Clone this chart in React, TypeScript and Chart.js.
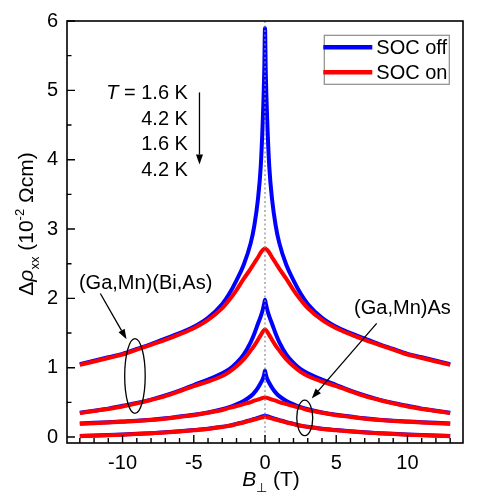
import React, { useEffect, useRef } from "react";
import { Chart, registerables } from "chart.js";

Chart.register(...registerables);

const FONT = '"Liberation Sans", Arial, Helvetica, sans-serif';

// Magnetic field B⊥ (T)
const fieldB = [-13, -12, -11, -10, -9, -8, -7, -6, -5, -4, -3, -2.5, -2, -1.5, -1, -0.75, -0.5, -0.3, -0.15, -0.05, 0, 0.05, 0.15, 0.3, 0.5, 0.75, 1, 1.5, 2, 2.5, 3, 4, 5, 6, 7, 8, 9, 10, 11, 12, 13];

// (Ga,Mn)(Bi,As), T = 1.6 K
const gmbaLowOff = [1.05, 1.10, 1.15, 1.20, 1.27, 1.34, 1.42, 1.50, 1.59, 1.72, 1.92, 2.07, 2.26, 2.48, 2.80, 3.05, 3.42, 3.90, 4.60, 5.30, 5.90, 5.30, 4.60, 3.90, 3.42, 3.05, 2.80, 2.48, 2.26, 2.07, 1.92, 1.72, 1.59, 1.50, 1.42, 1.34, 1.27, 1.20, 1.15, 1.10, 1.05];
const gmbaLowOn = [1.04, 1.09, 1.14, 1.19, 1.26, 1.33, 1.40, 1.48, 1.57, 1.69, 1.86, 1.98, 2.12, 2.28, 2.43, 2.51, 2.59, 2.66, 2.70, 2.715, 2.72, 2.715, 2.70, 2.66, 2.59, 2.51, 2.43, 2.28, 2.12, 1.98, 1.86, 1.69, 1.57, 1.48, 1.40, 1.33, 1.26, 1.19, 1.14, 1.09, 1.04];
// (Ga,Mn)(Bi,As), T = 4.2 K
const gmbaHighOff = [0.35, 0.38, 0.41, 0.45, 0.49, 0.54, 0.60, 0.67, 0.75, 0.83, 0.92, 0.98, 1.07, 1.19, 1.37, 1.49, 1.63, 1.74, 1.84, 1.93, 1.98, 1.93, 1.84, 1.74, 1.63, 1.49, 1.37, 1.19, 1.07, 0.98, 0.92, 0.83, 0.75, 0.67, 0.60, 0.54, 0.49, 0.45, 0.41, 0.38, 0.35];
const gmbaHighOn = [0.345, 0.375, 0.405, 0.44, 0.485, 0.535, 0.59, 0.66, 0.735, 0.80, 0.88, 0.94, 1.02, 1.12, 1.25, 1.32, 1.40, 1.47, 1.52, 1.545, 1.55, 1.545, 1.52, 1.47, 1.40, 1.32, 1.25, 1.12, 1.02, 0.94, 0.88, 0.80, 0.735, 0.66, 0.59, 0.535, 0.485, 0.44, 0.405, 0.375, 0.345];
// (Ga,Mn)As, T = 1.6 K
const gmaLowOff = [0.195, 0.205, 0.215, 0.225, 0.235, 0.25, 0.27, 0.295, 0.32, 0.355, 0.40, 0.43, 0.47, 0.52, 0.59, 0.64, 0.71, 0.78, 0.84, 0.91, 0.96, 0.91, 0.84, 0.78, 0.71, 0.64, 0.59, 0.52, 0.47, 0.43, 0.40, 0.355, 0.32, 0.295, 0.27, 0.25, 0.235, 0.225, 0.215, 0.205, 0.195];
const gmaLowOn = [0.19, 0.20, 0.21, 0.22, 0.23, 0.245, 0.265, 0.29, 0.315, 0.35, 0.39, 0.42, 0.445, 0.475, 0.505, 0.525, 0.54, 0.555, 0.565, 0.568, 0.57, 0.568, 0.565, 0.555, 0.54, 0.525, 0.505, 0.475, 0.445, 0.42, 0.39, 0.35, 0.315, 0.29, 0.265, 0.245, 0.23, 0.22, 0.21, 0.20, 0.19];
// (Ga,Mn)As, T = 4.2 K
const gmaHighOff = [0.016, 0.022, 0.029, 0.037, 0.046, 0.056, 0.068, 0.083, 0.10, 0.12, 0.148, 0.165, 0.19, 0.215, 0.245, 0.26, 0.275, 0.29, 0.30, 0.305, 0.31, 0.305, 0.30, 0.29, 0.275, 0.26, 0.245, 0.215, 0.19, 0.165, 0.148, 0.12, 0.10, 0.083, 0.068, 0.056, 0.046, 0.037, 0.029, 0.022, 0.016];
const gmaHighOn = [0.013, 0.019, 0.026, 0.034, 0.043, 0.053, 0.065, 0.08, 0.097, 0.117, 0.145, 0.162, 0.186, 0.21, 0.238, 0.252, 0.266, 0.277, 0.285, 0.288, 0.29, 0.288, 0.285, 0.277, 0.266, 0.252, 0.238, 0.21, 0.186, 0.162, 0.145, 0.117, 0.097, 0.08, 0.065, 0.053, 0.043, 0.034, 0.026, 0.019, 0.013];

const socOffSeries = [gmbaLowOff, gmbaHighOff, gmaLowOff, gmaHighOff];
const socOnSeries = [gmbaLowOn, gmbaHighOn, gmaLowOn, gmaHighOn];

const legendLabels = ["SOC off", "SOC on"];
const seriesColors = ["#0000FF", "#FF0000"];

const xTickLabels = [-10, -5, 0, 5, 10];
const xMinorTicks = [-13, -12, -11, -9, -8, -7, -6, -4, -3, -2, -1, 1, 2, 3, 4, 6, 7, 8, 9, 11, 12, 13];
const yTickLabels = [0, 1, 2, 3, 4, 5, 6];
const yMinorTicks = [0.5, 1.5, 2.5, 3.5, 4.5, 5.5];

const tempLabels = ["1.6 K", "4.2 K", "1.6 K", "4.2 K"];

type Part = { t: string; italic?: boolean; sub?: boolean; sup?: boolean };

function drawRich(ctx: CanvasRenderingContext2D, parts: Part[], x: number, y: number, size: number, align: "left" | "center" | "right") {
  const fontFor = (p: Part) => {
    const s = p.sub || p.sup ? size * 0.62 : size;
    return `${p.italic ? "italic " : ""}${s}px ${FONT}`;
  };
  let total = 0;
  const widths = parts.map((p) => {
    ctx.font = fontFor(p);
    const w = ctx.measureText(p.t).width;
    total += w;
    return w;
  });
  let cx = align === "left" ? x : align === "center" ? x - total / 2 : x - total;
  ctx.textAlign = "left";
  parts.forEach((p, i) => {
    ctx.font = fontFor(p);
    const dy = p.sub ? size * 0.3 : p.sup ? -size * 0.42 : 0;
    ctx.fillText(p.t, cx, y + dy);
    cx += widths[i];
  });
}

function arrow(ctx: CanvasRenderingContext2D, x1: number, y1: number, x2: number, y2: number) {
  const ang = Math.atan2(y2 - y1, x2 - x1);
  const len = 10;
  const hw = 3.5;
  const bx = x2 - len * Math.cos(ang);
  const by = y2 - len * Math.sin(ang);
  ctx.beginPath();
  ctx.moveTo(x1, y1);
  ctx.lineTo(bx, by);
  ctx.stroke();
  ctx.beginPath();
  ctx.moveTo(x2, y2);
  ctx.lineTo(bx + hw * Math.sin(ang), by - hw * Math.cos(ang));
  ctx.lineTo(bx - hw * Math.sin(ang), by + hw * Math.cos(ang));
  ctx.closePath();
  ctx.fill();
}

const decorPlugin = {
  id: "decor",
  afterDatasetsDraw(chart: any) {
    const { ctx, chartArea: a, scales } = chart;
    const xs = scales.x;
    const ys = scales.y;
    ctx.save();
    // dotted zero line
    const x0 = xs.getPixelForValue(0);
    ctx.strokeStyle = "#8a8a8a";
    ctx.lineWidth = 1.2;
    ctx.setLineDash([2, 2.5]);
    ctx.beginPath();
    ctx.moveTo(x0, a.top);
    ctx.lineTo(x0, a.bottom);
    ctx.stroke();
    ctx.setLineDash([]);
    // frame
    ctx.strokeStyle = "#000";
    ctx.lineWidth = 1.6;
    ctx.strokeRect(a.left, a.top, a.right - a.left, a.bottom - a.top);
    // inward ticks
    ctx.lineWidth = 1.4;
    ctx.beginPath();
    xTickLabels.forEach((v) => {
      const px = xs.getPixelForValue(v);
      ctx.moveTo(px, a.bottom);
      ctx.lineTo(px, a.bottom - 8);
    });
    xMinorTicks.forEach((v) => {
      const px = xs.getPixelForValue(v);
      ctx.moveTo(px, a.bottom);
      ctx.lineTo(px, a.bottom - 5);
    });
    yTickLabels.forEach((v) => {
      const py = ys.getPixelForValue(v);
      ctx.moveTo(a.left, py);
      ctx.lineTo(a.left + 8, py);
    });
    yMinorTicks.forEach((v) => {
      const py = ys.getPixelForValue(v);
      ctx.moveTo(a.left, py);
      ctx.lineTo(a.left + 4.5, py);
    });
    ctx.stroke();
    ctx.restore();
  },
  afterDraw(chart: any) {
    const { ctx, chartArea: a, scales } = chart;
    const xs = scales.x;
    const ys = scales.y;
    const X = (v: number) => xs.getPixelForValue(v);
    const Y = (v: number) => ys.getPixelForValue(v);
    ctx.save();
    ctx.fillStyle = "#000";
    ctx.strokeStyle = "#000";
    ctx.textBaseline = "middle";

    // temperature labels
    const tRight = X(-5.41);
    tempLabels.forEach((lab, i) => {
      const py = Y(4.95) + i * 25.5;
      const parts: Part[] = i === 0 ? [{ t: "T", italic: true }, { t: " = " + lab }] : [{ t: lab }];
      drawRich(ctx, parts, tRight, py, 20, "right");
    });
    ctx.lineWidth = 1.3;
    arrow(ctx, X(-4.6), Y(4.97), X(-4.6), Y(3.93));

    // sample annotations
    drawRich(ctx, [{ t: "(Ga,Mn)(Bi,As)" }], X(-8.38), Y(2.21), 20, "center");
    drawRich(ctx, [{ t: "(Ga,Mn)As" }], X(9.65), Y(1.85), 20, "center");
    ctx.lineWidth = 1.3;
    arrow(ctx, X(-11.56), Y(2.07), X(-9.72), Y(1.41));
    arrow(ctx, X(7.84), Y(1.64), X(3.28), Y(0.557));
    const ell = (cb: number, cv: number, rb: number, rv: number) => {
      const cx = X(cb);
      const cy = Y(cv);
      ctx.beginPath();
      ctx.ellipse(cx, cy, Math.abs(X(cb + rb) - cx), Math.abs(Y(cv + rv) - cy), 0, 0, Math.PI * 2);
      ctx.stroke();
    };
    ell(-9.13, 0.88, 0.72, 0.54);
    ell(2.79, 0.276, 0.56, 0.256);

    // legend
    const lx = a.right - 138.7;
    const ly = a.top + 14.3;
    ctx.fillStyle = "#fff";
    ctx.fillRect(lx, ly, 125, 49);
    ctx.strokeStyle = "#8c8c8c";
    ctx.lineWidth = 1.2;
    ctx.strokeRect(lx, ly, 125, 49);
    legendLabels.forEach((lab, i) => {
      const yy = ly + 12 + i * 25;
      ctx.strokeStyle = seriesColors[i];
      ctx.lineWidth = 4.5;
      ctx.beginPath();
      ctx.moveTo(lx - 1, yy);
      ctx.lineTo(lx + 48, yy);
      ctx.stroke();
      ctx.fillStyle = "#000";
      drawRich(ctx, [{ t: lab }], lx + 52, yy + 1, 20, "left");
    });

    // axis titles
    ctx.fillStyle = "#000";
    ctx.textBaseline = "alphabetic";
    drawRich(
      ctx,
      [{ t: "B", italic: true }, { t: "\u22A5", sub: true }, { t: " (T)" }],
      (a.left + a.right) / 2 + 6,
      486,
      21,
      "center"
    );
    ctx.save();
    ctx.translate(33, (a.top + a.bottom) / 2 - 8);
    ctx.rotate(-Math.PI / 2);
    drawRich(
      ctx,
      [{ t: "\u0394" }, { t: "\u03C1", italic: true }, { t: "xx", sub: true }, { t: " (10" }, { t: "-2", sup: true }, { t: " \u03A9cm)" }],
      0,
      0,
      21,
      "center"
    );
    ctx.restore();
    ctx.restore();
  },
};

export default function App() {
  const ref = useRef<HTMLCanvasElement>(null);
  useEffect(() => {
    const datasets: any[] = [];
    socOffSeries.forEach((vals, i) => {
      datasets.push({
        label: legendLabels[0] + " " + i,
        data: fieldB.map((b, k) => ({ x: b, y: vals[k] })),
        borderColor: seriesColors[0],
        borderWidth: 4,
        pointRadius: 0,
        cubicInterpolationMode: "monotone",
        fill: false,
        order: 2,
      });
    });
    socOnSeries.forEach((vals, i) => {
      datasets.push({
        label: legendLabels[1] + " " + i,
        data: fieldB.map((b, k) => ({ x: b, y: vals[k] })),
        borderColor: seriesColors[1],
        borderWidth: 4,
        pointRadius: 0,
        cubicInterpolationMode: "monotone",
        fill: false,
        order: 1,
      });
    });
    const chart = new Chart(ref.current as HTMLCanvasElement, {
      type: "line",
      data: { datasets },
      options: {
        animation: false,
        responsive: false,
        maintainAspectRatio: false,
        layout: { padding: { top: 20, right: 15, left: 0, bottom: 0 } },
        plugins: { legend: { display: false }, tooltip: { enabled: false }, title: { display: false } },
        scales: {
          x: {
            type: "linear",
            min: -13.9,
            max: 13.9,
            grid: { display: false, drawTicks: false },
            border: { display: false },
            afterBuildTicks: (s: any) => {
              s.ticks = xTickLabels.map((v) => ({ value: v }));
            },
            afterFit: (s: any) => {
              s.height = 57;
            },
            ticks: { autoSkip: false, maxRotation: 0, padding: 8, color: "#000", font: { family: FONT, size: 20 } },
          },
          y: {
            type: "linear",
            min: -0.086,
            max: 6,
            grid: { display: false, drawTicks: false },
            border: { display: false },
            afterBuildTicks: (s: any) => {
              s.ticks = yTickLabels.map((v) => ({ value: v }));
            },
            afterFit: (s: any) => {
              s.width = 67;
            },
            ticks: { autoSkip: false, padding: 9, color: "#000", font: { family: FONT, size: 20 } },
          },
        },
      },
      plugins: [decorPlugin],
    } as any);
    return () => chart.destroy();
  }, []);
  return (
    <div style={{ position: "fixed", left: 0, top: 0, width: 478, height: 500, background: "#fff" }}>
      <canvas ref={ref} width={478} height={500} style={{ width: 478, height: 500, display: "block" }} />
    </div>
  );
}
